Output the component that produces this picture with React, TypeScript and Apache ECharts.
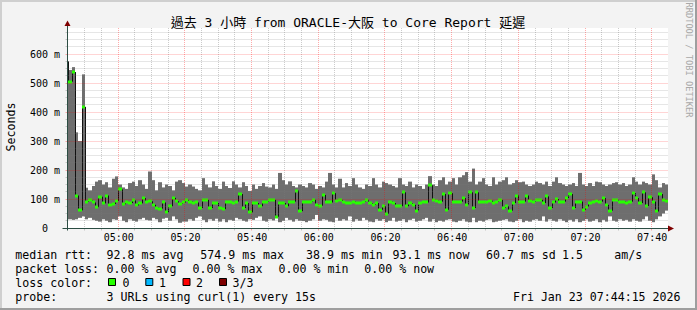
import React, { useEffect, useRef } from "react";
import * as echarts from "echarts";

const FONT = "'DejaVu Sans Mono', 'Noto Sans CJK TC', monospace";

// time axis in minutes after midnight
const X_MIN = 284.6; // 04:44:36
const X_MAX = 464.9; // 07:44:54
const Y_MAX = 690; // ms
const T_FIRST = 285; // end time of first sample (minutes)
const STEP = 1; // minutes per sample

const xMajorTicks = [300, 320, 340, 360, 380, 400, 420, 440, 460];
const xMajorLabels = ["05:00", "05:20", "05:40", "06:00", "06:20", "06:40", "07:00", "07:20", "07:40"];
const xMinorTicks = [290, 295, 305, 310, 315, 325, 330, 335, 345, 350, 355, 365, 370, 375, 385, 390, 395, 405, 410, 415, 425, 430, 435, 445, 450, 455];
const yMajorTicks = [100, 200, 300, 400, 500, 600];
const yMinorTicks = [25, 50, 75, 125, 150, 175, 225, 250, 275, 325, 350, 375, 425, 450, 475, 525, 550, 575, 625, 650, 675];

// smoke top (max rtt, ms)
const maxVals = [
  580, 545, 555, 330, 300, 530,
  139, 130, 145, 160, 165, 150, 158, 140, 170, 178,
  150, 140, 135, 155, 160, 145, 165, 150, 135, 195,
  165, 130, 158, 140, 150, 145, 130, 160, 165, 155,
  143, 150, 143, 135, 130, 172, 150, 140, 161, 145,
  135, 160, 145, 138, 161, 150, 140, 158, 145, 128,
  150, 135, 145, 155, 143, 140, 150, 135, 190, 165,
  150, 161, 145, 140, 150, 145,
  140, 155, 150, 135, 145, 140, 160, 190, 150, 140,
  170, 140, 155, 145, 172, 150, 140, 135, 150, 145,
  172, 150, 140, 160, 155, 150, 145, 140, 172, 150,
  145, 160, 140, 150, 145, 135, 150,
  179, 150, 145, 165, 175, 150, 160, 172, 150, 175,
  182, 193, 160, 205, 150, 160, 172, 150, 145, 175,
  150, 160, 165, 175, 150, 155, 165, 158, 160, 150,
  145, 150, 160, 155, 150, 160, 145,
  160, 175, 155, 150, 145, 150, 155, 145, 190, 150,
  145, 155, 145, 160, 158, 150, 145, 150, 155, 158,
  150, 155, 145, 150, 175, 160, 150, 160, 155, 150,
  185, 165, 140, 155, 150,
];

// smoke bottom (min rtt, ms)
const minVals = [
  35, 30, 28, 30, 35, 40,
  30, 35, 28, 25, 22, 30, 25, 20, 30, 28,
  40, 25, 20, 30, 25, 22, 30, 35, 28, 26,
  35, 30, 20, 32, 35, 25, 40, 30, 18, 22,
  22, 30, 25, 35, 40, 28, 20, 30, 25, 32,
  22, 30, 20, 28, 25, 35, 30, 25, 22, 30,
  28, 35, 40, 25, 22, 30, 26, 35, 20, 25,
  35, 28, 22, 30, 25, 24,
  20, 25, 30, 45, 25, 30, 28, 22, 20, 35,
  25, 30, 26, 40, 22, 30, 25, 35, 28, 22,
  20, 30, 25, 30, 20, 25, 35, 22, 25, 30,
  20, 28, 32, 22, 25, 30, 35,
  22, 30, 20, 25, 22, 28, 30, 22, 20, 25,
  30, 22, 20, 35, 20, 25, 22, 28, 30, 20,
  22, 25, 28, 30, 22, 20, 25, 30, 20, 25,
  22, 28, 30, 25, 40, 22, 30,
  25, 22, 30, 25, 20, 28, 22, 30, 20, 25,
  30, 22, 25, 30, 20, 28, 22, 40, 25, 22,
  30, 25, 28, 22, 30, 25, 22, 30, 40, 25,
  20, 30, 40, 50, 60,
];

// median rtt (ms)
const medVals = [
  575, 505, 538, 112, 61, 418,
  90, 95, 88, 72, 108, 85, 112, 80, 83, 93,
  133, 82, 88, 86, 95, 78, 85, 103, 90, 92,
  80, 70, 67, 88, 54, 75, 104, 92, 84, 88,
  97, 91, 86, 88, 69, 97, 97, 69, 86, 86,
  69, 65, 91, 88, 86, 91, 117, 69, 86, 54,
  86, 86, 75, 91, 91, 97, 97, 39, 86, 86,
  75, 91, 91, 129, 58, 91,
  91, 91, 97, 80, 77, 114, 91, 88, 120, 93,
  97, 88, 86, 86, 91, 86, 86, 91, 97, 86,
  80, 86, 63, 75, 49, 91, 86, 75, 75, 123,
  75, 86, 80, 60, 86, 91, 88,
  147, 97, 94, 91, 117, 63, 120, 91, 91, 91,
  103, 80, 123, 69, 123, 91, 91, 91, 94, 86,
  91, 97, 69, 75, 60, 86, 112, 91, 91, 112,
  94, 91, 97, 97, 86, 109, 69,
  88, 100, 91, 91, 103, 117, 69, 91, 91, 63,
  74, 86, 91, 94, 91, 103, 80, 60, 97, 97,
  91, 91, 86, 91, 120, 103, 86, 123, 76, 106,
  91, 57, 117, 97, 93,
];

const TITLE = "過去 3 小時 from ORACLE-大阪 to Core Report 延遲";
const legendLine1 = [
  [15.3, "median rtt:"], [106.6, "92.8 ms avg"], [200.3, "574.9 ms max"], [306, "38.9 ms min"],
  [392.6, "93.1 ms now"], [486, "60.7 ms sd"], [562, "1.5"], [614.3, "am/s"],
];
const legendLine2 = [
  [15.3, "packet loss:"], [106.6, "0.00 % avg"], [192.6, "0.00 % max"], [278.6, "0.00 % min"], [364.3, "0.00 % now"],
];
const lossLabels = ["0", "1", "2", "3/3"];
const lossColors = ["#26ff00", "#00b8ff", "#ff0000", "#7e0000"];
const lossBoxX = [108.5, 145.8, 183, 219.5];
const lossTextX = [122.6, 159, 196, 232.6];
const PROBE_TEXT = "3 URLs using curl(1) every 15s";
const DATE_TEXT = "Fri Jan 23 07:44:15 2026";

const SMOKE = "#6e6e6e";
const MEDIAN_GREEN = "#26ff00";
const MGRID = "rgba(255,0,0,0.33)";
const GRID = "rgba(120,120,120,0.38)";
const AXIS = "#2c4d43";
const ARROW = "#7f0000";

function txt(x: number, y: number, text: string, extra: any = {}) {
  return {
    type: "text",
    x,
    y,
    silent: true,
    style: {
      text,
      fontFamily: FONT,
      fontSize: 11.6,
      fill: "#000",
      align: "left",
      verticalAlign: "middle",
      ...extra,
    },
  };
}

export default function App() {
  const ref = useRef<HTMLDivElement>(null);

  useEffect(() => {
    document.body.style.margin = "0";
    const chart = echarts.init(ref.current!, null, { renderer: "svg" });
    const data = medVals.map((m, i) => [T_FIRST + i * STEP, minVals[i], maxVals[i], m]);

    const renderSmoke = (params: any, api: any) => {
      const t = api.value(0);
      const lo = api.value(1);
      const hi = api.value(2);
      const a = api.coord([t - STEP, hi]);
      const b = api.coord([t, lo]);
      const x0 = Math.round(a[0]);
      const x1 = Math.round(b[0]);
      return {
        type: "rect",
        shape: { x: x0, y: a[1], width: x1 - x0, height: b[1] - a[1] },
        style: { fill: SMOKE },
      };
    };

    const renderMedian = (params: any, api: any) => {
      const t = api.value(0);
      const m = api.value(3);
      const idx = params.dataIndex;
      const a = api.coord([t - STEP, m]);
      const b = api.coord([t, m]);
      const x0 = Math.round(a[0]);
      const x1 = Math.round(b[0]);
      const children: any[] = [];
      if (idx > 0) {
        const p = api.coord([t - STEP, medVals[idx - 1]]);
        children.push({
          type: "line",
          shape: { x1: x0 + 0.5, y1: p[1], x2: x0 + 0.5, y2: a[1] },
          style: { stroke: "#111", lineWidth: 1 },
        });
      }
      children.push({
        type: "rect",
        shape: { x: x0, y: Math.round(a[1]) - 1.5, width: x1 - x0, height: 3 },
        style: { fill: MEDIAN_GREEN },
      });
      return { type: "group", children };
    };

    const renderDecor = (params: any, api: any) => {
      const p0 = api.coord([X_MIN, 0]);
      const p1 = api.coord([X_MAX, Y_MAX]);
      const L = Math.floor(p0[0]) + 0.5;
      const B = Math.floor(p0[1]) + 0.5;
      const R = Math.round(p1[0]);
      const T = Math.round(p1[1]);
      const ch: any[] = [];
      const dash = [1, 1];
      const vline = (t: number, color: string) => {
        const x = Math.floor(api.coord([t, 0])[0]) + 0.5;
        ch.push({ type: "line", shape: { x1: x, y1: T, x2: x, y2: B }, style: { stroke: color, lineWidth: 1, lineDash: dash } });
        ch.push({ type: "line", shape: { x1: x, y1: B, x2: x, y2: B + 2 }, style: { stroke: color, lineWidth: 1 } });
      };
      const hline = (v: number, color: string) => {
        const y = Math.floor(api.coord([X_MIN, v])[1]) + 0.5;
        ch.push({ type: "line", shape: { x1: L, y1: y, x2: R, y2: y }, style: { stroke: color, lineWidth: 1, lineDash: dash } });
        ch.push({ type: "line", shape: { x1: L - 2, y1: y, x2: L, y2: y }, style: { stroke: color, lineWidth: 1 } });
      };
      xMinorTicks.forEach((t) => vline(t, GRID));
      yMinorTicks.forEach((v) => hline(v, GRID));
      xMajorTicks.forEach((t) => vline(t, MGRID));
      yMajorTicks.forEach((v) => hline(v, MGRID));
      // x labels
      xMajorTicks.forEach((t, i) => {
        const x = api.coord([t, 0])[0];
        ch.push({
          type: "text",
          x: x + 0.5,
          y: B + 9,
          style: { text: xMajorLabels[i], fontFamily: FONT, fontSize: 10, fill: "#000", align: "center", verticalAlign: "middle" },
        });
      });
      // axes
      ch.push({ type: "line", shape: { x1: L - 5, y1: B, x2: R, y2: B }, style: { stroke: AXIS, lineWidth: 1 } });
      ch.push({ type: "line", shape: { x1: L, y1: B + 2, x2: L, y2: T - 2 }, style: { stroke: AXIS, lineWidth: 1 } });
      ch.push({ type: "polygon", shape: { points: [[R, B - 3], [R + 6, B], [R, B + 3]] }, style: { fill: ARROW } });
      ch.push({ type: "polygon", shape: { points: [[L - 3, T - 2], [L, T - 7.5], [L + 3, T - 2]] }, style: { fill: ARROW } });
      return { type: "group", children: ch };
    };

    const graphic: any[] = [
      { type: "rect", shape: { x: 0, y: 0, width: 697, height: 2 }, style: { fill: "#cfcfcf" }, silent: true },
      { type: "rect", shape: { x: 0, y: 0, width: 2, height: 310 }, style: { fill: "#cfcfcf" }, silent: true },
      { type: "rect", shape: { x: 0, y: 308, width: 697, height: 2 }, style: { fill: "#9e9e9e" }, silent: true },
      { type: "rect", shape: { x: 695, y: 0, width: 2, height: 310 }, style: { fill: "#9e9e9e" }, silent: true },
      txt(348, 22, TITLE, { fontSize: 13, align: "center" }),
      { ...txt(11, 127, "Seconds", { align: "center" }), rotation: Math.PI / 2 },
      { ...txt(688.5, 60, "RRDTOOL / TOBI OETIKER", { align: "center", fontSize: 8.7, fill: "#a8a8a8" }), rotation: -Math.PI / 2 },
    ];
    legendLine1.forEach(([x, s]) => graphic.push(txt(x as number, 255, s as string)));
    legendLine2.forEach(([x, s]) => graphic.push(txt(x as number, 269, s as string)));
    graphic.push(txt(15.3, 283, "loss color:"));
    lossLabels.forEach((s, i) => {
      graphic.push({
        type: "rect",
        shape: { x: lossBoxX[i], y: 278.5, width: 7, height: 7 },
        style: { fill: lossColors[i], stroke: "#000", lineWidth: 1 },
        silent: true,
      });
      graphic.push(txt(lossTextX[i], 283, s));
    });
    graphic.push(txt(15.3, 296.8, "probe:"));
    graphic.push(txt(106.6, 296.8, PROBE_TEXT));
    graphic.push(txt(680.5, 296.8, DATE_TEXT, { align: "right" }));

    const option: any = {
      animation: false,
      backgroundColor: "#f3f3f3",
      grid: {
        left: 67,
        top: 28,
        width: 601,
        height: 200,
        show: true,
        backgroundColor: "#ffffff",
        borderWidth: 0,
        containLabel: false,
        outerBoundsMode: "none",
      },
      xAxis: {
        type: "value",
        min: X_MIN,
        max: X_MAX,
        axisLine: { show: false },
        axisTick: { show: false },
        axisLabel: { show: false },
        splitLine: { show: false },
      },
      yAxis: {
        type: "value",
        min: 0,
        max: Y_MAX,
        interval: 100,
        axisLine: { show: false },
        axisTick: { show: false },
        splitLine: { show: false },
        axisLabel: {
          margin: 7,
          fontFamily: FONT,
          fontSize: 10,
          color: "#000",
          formatter: (v: number) => (v === 0 ? "{z|0}" : v % 100 === 0 ? `${v} m` : ""),
          rich: { z: { fontFamily: FONT, fontSize: 10, color: "#000", padding: [0, 12, 0, 0] } },
        },
      },
      graphic,
      series: [
        { type: "custom", name: "smoke", data, renderItem: renderSmoke, clip: true, z: 2, silent: true },
        { type: "custom", name: "median", data, renderItem: renderMedian, clip: true, z: 3, silent: true },
        { type: "custom", name: "grid", data: [[X_MIN, 0]], renderItem: renderDecor, clip: false, z: 4, silent: true },
      ],
    };
    chart.setOption(option);
    return () => chart.dispose();
  }, []);

  return <div ref={ref} style={{ position: "absolute", left: 0, top: 0, width: 697, height: 310 }} />;
}
